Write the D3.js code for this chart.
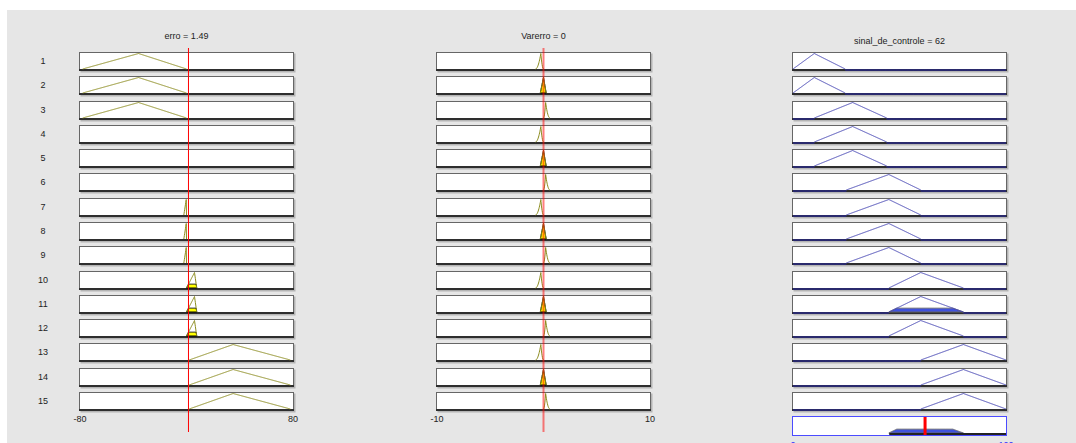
<!DOCTYPE html>
<html><head><meta charset="utf-8">
<script src="https://cdn.jsdelivr.net/npm/d3@7"></script>
<style>body{margin:0;background:#fff;} svg{display:block;}</style>
</head><body><svg id="c" width="1076" height="443"></svg>
<script>
// ---------------- data ----------------
const inputNames = ["erro", "Varerro"];
const inputValues = [1.49, 0];
const inputRanges = [[-80, 80], [-10, 10]];
const outputName = "sinal_de_controle";
const outputRange = [0, 100];
const outputValue = 62;
const tickLabels = [["-80", "80"], ["-10", "10"], ["0", "100"]];
// membership functions (type, params)
const erroMFs = [
  {type: "tri", p: [-78, -36, 0]},
  {type: "tri", p: [-2, -0.2, 0]},
  {type: "tri", p: [0, 6, 7.7]},
  {type: "tri", p: [2, 35, 78]}
];
const varerroMFs = [
  {type: "tri2", p: [-0.75, -0.25, 0]},
  {type: "tri", p: [-0.3, 0, 0.25]},
  {type: "tri2", p: [0, 0.2, 0.6]}
];
const outMFs = [
  {type: "tri", p: [0, 10, 24.5]},
  {type: "tri", p: [10, 28, 44]},
  {type: "tri", p: [25, 45, 60]},
  {type: "tri", p: [45, 60, 80]},
  {type: "tri", p: [60, 80, 100]}
];
const ruleErro    = [1, 1, 1, 0, 0, 0, 2, 2, 2, 3, 3, 3, 4, 4, 4]; // 0 = not shown
const ruleVarerro = [1, 2, 3, 1, 2, 3, 1, 2, 3, 1, 2, 3, 1, 2, 3];
const ruleOut     = [1, 1, 2, 2, 2, 3, 3, 3, 3, 4, 4, 4, 5, 5, 5];

// ---------------- helpers ----------------
function tri(x, [a, b, c]) {
  let l = b > a ? (x - a) / (b - a) : (x >= b ? 1 : 0);
  let r = c > b ? (c - x) / (c - b) : (x <= b ? 1 : 0);
  return Math.max(0, Math.min(l, r, 1));
}
function evalMF(mf, x) {
  if (!mf) return 0;
  const t = tri(x, mf.p);
  return mf.type === "tri2" ? t * t : t;
}
function grid(range, mf) {
  const n = 600, xs = d3.range(n + 1).map(i => range[0] + (range[1] - range[0]) * i / n);
  if (mf) xs.push(...mf.p.filter(v => v >= range[0] && v <= range[1]));
  return xs.sort((a, b) => a - b);
}

// ---------------- layout ----------------
const svg = d3.select("#c");
const W = 1076, H = 443;
svg.append("rect").attr("x", 7).attr("y", 10).attr("width", W - 7).attr("height", H - 10).attr("fill", "#e6e6e6");

const colX = [79, 436, 792], boxW = 215, boxH = 19;
const rowTop = i => Math.round(52 + i * 24.29);
const xScales = [
  d3.scaleLinear().domain(inputRanges[0]).range([colX[0] + 1, colX[0] + boxW - 1]),
  d3.scaleLinear().domain(inputRanges[1]).range([colX[1] + 1, colX[1] + boxW - 1]),
  d3.scaleLinear().domain(outputRange).range([colX[2] + 1, colX[2] + boxW - 1])
];
const yScale = T => d3.scaleLinear().domain([0, 1]).range([T + 17, T + 1.5]);
const font = "'Liberation Sans', Arial, sans-serif";

function box(x, T, stroke) {
  svg.append("rect").attr("x", x + 1.5).attr("y", T + 1.5).attr("width", boxW).attr("height", boxH)
    .attr("fill", "#b4b4b4");
  svg.append("rect").attr("x", x + 0.5).attr("y", T + 0.5).attr("width", boxW - 1).attr("height", boxH - 1)
    .attr("fill", "#fff").attr("stroke", stroke || "#666");
}

// firing strengths
const mus = ruleErro.map((e, i) => {
  const m1 = e ? evalMF(erroMFs[e - 1], inputValues[0]) : 0;
  const m2 = evalMF(varerroMFs[ruleVarerro[i] - 1], inputValues[1]);
  return {m1, m2, w: Math.min(m1, m2)};
});

const line = (xs, ys) => d3.line().x(d => xs(d[0])).y(d => ys(d[1]));

for (let i = 0; i < 15; i++) {
  const T = rowTop(i), ys = yScale(T);
  // row number
  svg.append("text").attr("x", 43).attr("y", T + 10).attr("text-anchor", "middle")
    .attr("dominant-baseline", "middle").attr("font-family", font).attr("font-size", 9)
    .attr("fill", "#222").text(i + 1);
  // three boxes
  for (let c = 0; c < 3; c++) {
    box(colX[c], T);
    svg.append("rect").attr("x", colX[c]).attr("y", T + 17).attr("width", boxW).attr("height", 2).attr("fill", "#2e2e2e");
  }
  // input 1
  const mf1 = ruleErro[i] ? erroMFs[ruleErro[i] - 1] : null;
  if (mf1) {
    const xs = xScales[0], g = grid(inputRanges[0], mf1);
    const pts = g.map(x => [x, evalMF(mf1, x)]);
    const m = mus[i].m1;
    if (m > 0) {
      const fpts = g.filter(x => evalMF(mf1, x) > 0 || x === mf1.p[0] || x === mf1.p[2])
        .map(x => [x, Math.min(evalMF(mf1, x), m)]);
      svg.append("path").attr("d", line(xs, ys)(fpts) + "Z").attr("fill", "#ffff00").attr("stroke", "#000").attr("stroke-width", 1);
    }
    const vis = pts.filter(d => d[0] >= mf1.p[0] && d[0] <= mf1.p[2]);
    svg.append("path").attr("d", line(xs, ys)(vis)).attr("fill", "none").attr("stroke", "#8c8c1e").attr("stroke-width", 1);
  }
  // input 2
  {
    const mf2 = varerroMFs[ruleVarerro[i] - 1];
    const xs = xScales[1], g = grid(inputRanges[1], mf2);
    const m = mus[i].m2;
    if (m > 0) {
      const fpts = g.filter(x => x >= mf2.p[0] && x <= mf2.p[2]).map(x => [x, Math.min(evalMF(mf2, x), m)]);
      svg.append("path").attr("d", line(xs, ys)(fpts) + "Z").attr("fill", "#ffff00").attr("stroke", "#000").attr("stroke-width", 1);
    }
    const vis = g.filter(x => x >= mf2.p[0] && x <= mf2.p[2]).map(x => [x, evalMF(mf2, x)]);
    svg.append("path").attr("d", line(xs, ys)(vis)).attr("fill", "none").attr("stroke", "#8c8c1e").attr("stroke-width", 1);
  }
  // output
  {
    const mf3 = outMFs[ruleOut[i] - 1];
    const xs = xScales[2], g = grid(outputRange, mf3);
    const w = mus[i].w;
    if (w > 0) {
      const fpts = g.filter(x => x >= mf3.p[0] && x <= mf3.p[2]).map(x => [x, Math.min(evalMF(mf3, x), w)]);
      svg.append("path").attr("d", line(xs, ys)(fpts) + "Z").attr("fill", "#3f51dd").attr("stroke", "#666").attr("stroke-width", 1);
    }
    const pts = g.map(x => [x, evalMF(mf3, x)]);
    // baseline segments (blue) outside the MF support
    svg.append("path").attr("d", line(xs, ys)(pts.filter(d => d[0] <= mf3.p[0])))
      .attr("fill", "none").attr("stroke", "#2a2ac8").attr("stroke-width", 1).attr("transform", "translate(0,1)");
    svg.append("path").attr("d", line(xs, ys)(pts.filter(d => d[0] >= mf3.p[2])))
      .attr("fill", "none").attr("stroke", "#2a2ac8").attr("stroke-width", 1).attr("transform", "translate(0,1)");
    svg.append("path").attr("d", line(xs, ys)(pts.filter(d => d[0] >= mf3.p[0] && d[0] <= mf3.p[2])))
      .attr("fill", "none").attr("stroke", "#4444b4").attr("stroke-width", 1);
  }
}

// aggregated output panel
{
  const T = rowTop(15), ys = yScale(T), xs = xScales[2];
  svg.append("rect").attr("x", colX[2] + 0.5).attr("y", T + 0.5).attr("width", boxW - 1).attr("height", boxH)
    .attr("fill", "#fff").attr("stroke", "#4b4bff");
  const g = grid(outputRange);
  const agg = g.map(x => [x, d3.max(ruleOut.map((o, i) => Math.min(mus[i].w, evalMF(outMFs[o - 1], x))))]);
  const support = agg.filter(d => d[1] > 0);
  const x0 = support[0][0], x1 = support[support.length - 1][0];
  const fill = agg.filter(d => d[0] >= x0 - 0.2 && d[0] <= x1 + 0.2);
  svg.append("path").attr("d", line(xs, ys)([[fill[0][0], 0], ...fill, [fill[fill.length - 1][0], 0]]) + "Z")
    .attr("fill", "#3f51dd").attr("stroke", "#666").attr("stroke-width", 1);
  svg.append("line").attr("x1", xs(x0)).attr("x2", xs(outputRange[1])).attr("y1", T + 18).attr("y2", T + 18)
    .attr("stroke", "#222").attr("stroke-width", 2);
  svg.append("rect").attr("x", xs(outputValue) - 1.5).attr("y", T + 1).attr("width", 3).attr("height", 18).attr("fill", "#ff0000");
}

// index lines for inputs
svg.append("line").attr("x1", xScales[0](inputValues[0])).attr("x2", xScales[0](inputValues[0]))
  .attr("y1", 48).attr("y2", 432).attr("stroke", "#ff0000").attr("stroke-width", 1);
svg.append("line").attr("x1", xScales[1](inputValues[1])).attr("x2", xScales[1](inputValues[1]))
  .attr("y1", 48).attr("y2", 432).attr("stroke", "rgba(255,0,0,0.5)").attr("stroke-width", 2);

// titles
const titles = [
  [inputNames[0] + " = " + inputValues[0], 37],
  [inputNames[1] + " = " + inputValues[1], 37],
  [outputName + " = " + outputValue, 42]
];
titles.forEach(([t, y], c) => {
  svg.append("text").attr("x", colX[c] + boxW / 2).attr("y", y).attr("text-anchor", "middle")
    .attr("dominant-baseline", "middle").attr("font-family", font).attr("font-size", 9).attr("fill", "#222").text(t);
});

// range tick labels
[0, 1].forEach(c => {
  const xs = xScales[c], r = inputRanges[c];
  svg.append("text").attr("x", xs(r[0])).attr("y", 420).attr("text-anchor", "middle").attr("dominant-baseline", "middle")
    .attr("font-family", font).attr("font-size", 9).attr("fill", "#222").text(tickLabels[c][0]);
  svg.append("text").attr("x", xs(r[1])).attr("y", 420).attr("text-anchor", "middle").attr("dominant-baseline", "middle")
    .attr("font-family", font).attr("font-size", 9).attr("fill", "#222").text(tickLabels[c][1]);
});
// output range labels sit at the lower edge of the window, as in the reference
svg.append("text").attr("x", xScales[2](outputRange[0])).attr("y", 448).attr("text-anchor", "middle")
  .attr("font-family", font).attr("font-size", 9).attr("fill", "#3333ff").text(tickLabels[2][0]);
svg.append("text").attr("x", xScales[2](outputRange[1])).attr("y", 448).attr("text-anchor", "middle")
  .attr("font-family", font).attr("font-size", 9).attr("fill", "#3333ff").text(tickLabels[2][1]);
</script></body></html>
